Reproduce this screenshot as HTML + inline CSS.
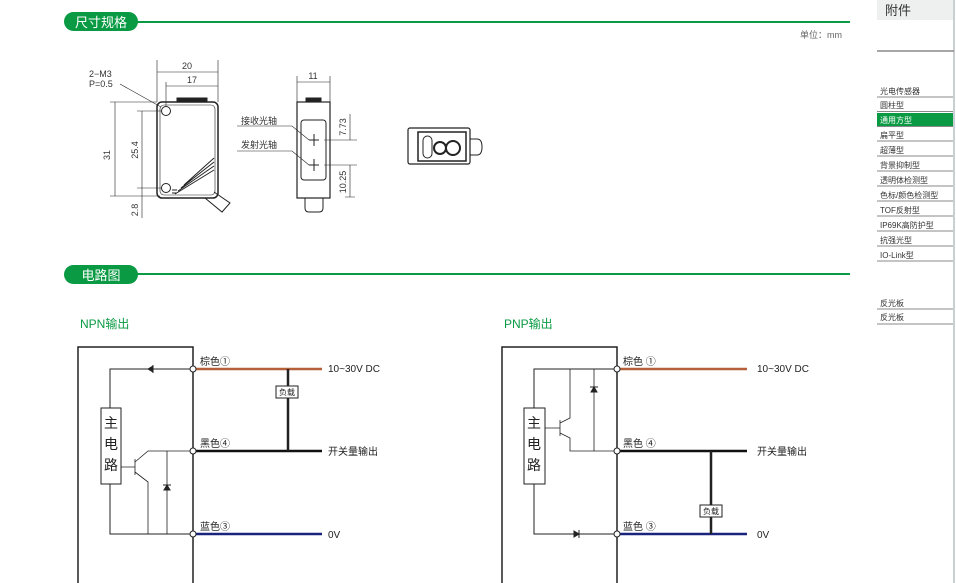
<!DOCTYPE html>
<html><head><meta charset="utf-8"><style>
body{margin:0;background:#fff;}
svg{display:block;font-family:"Liberation Sans","Noto Sans CJK SC",sans-serif;}
</style></head><body>
<svg width="956" height="583" viewBox="0 0 956 583" xmlns="http://www.w3.org/2000/svg">
<!-- headers -->
<line x1="80" y1="22" x2="850" y2="22" stroke="#0a9a43" stroke-width="2"/>
<rect x="64" y="12" width="74" height="19" rx="9.5" fill="#0a9a43"/>
<text x="101" y="27" font-size="13" fill="#fff" text-anchor="middle">尺寸规格</text>
<text x="842" y="38" font-size="9" fill="#666" text-anchor="end">单位：mm</text>
<line x1="80" y1="274" x2="850" y2="274" stroke="#0a9a43" stroke-width="2"/>
<rect x="64" y="265" width="74" height="19" rx="9.5" fill="#0a9a43"/>
<text x="101" y="280" font-size="13" fill="#fff" text-anchor="middle">电路图</text>

<!-- sidebar -->
<rect x="877" y="0" width="77" height="20" fill="#eef0ef"/>
<text x="885" y="15" font-size="13" fill="#333">附件</text>
<line x1="954" y1="0" x2="954" y2="583" stroke="#c8d0d4" stroke-width="2"/>
<line x1="877" y1="51" x2="954" y2="51" stroke="#888" stroke-width="1.5"/>
<g font-size="8" fill="#333">
<text x="880" y="94">光电传感器</text>
<line x1="877" y1="97" x2="953" y2="97" stroke="#888"/>
<text x="880" y="108">圆柱型</text><line x1="877" y1="111.5" x2="953" y2="111.5" stroke="#888"/>
<rect x="877" y="113" width="76" height="13" fill="#0a9a43"/>
<text x="880" y="123" fill="#fff">通用方型</text><line x1="877" y1="126.5" x2="953" y2="126.5" stroke="#888"/>
<text x="880" y="138">扁平型</text><line x1="877" y1="141" x2="953" y2="141" stroke="#888"/>
<text x="880" y="153">超薄型</text><line x1="877" y1="156" x2="953" y2="156" stroke="#888"/>
<text x="880" y="168">背景抑制型</text><line x1="877" y1="171" x2="953" y2="171" stroke="#888"/>
<text x="880" y="183">透明体检测型</text><line x1="877" y1="186" x2="953" y2="186" stroke="#888"/>
<text x="880" y="198">色标/颜色检测型</text><line x1="877" y1="201" x2="953" y2="201" stroke="#888"/>
<text x="880" y="213">TOF反射型</text><line x1="877" y1="216" x2="953" y2="216" stroke="#888"/>
<text x="880" y="228">IP69K高防护型</text><line x1="877" y1="231" x2="953" y2="231" stroke="#888"/>
<text x="880" y="243">抗强光型</text><line x1="877" y1="246" x2="953" y2="246" stroke="#888"/>
<text x="880" y="258">IO-Link型</text><line x1="877" y1="261" x2="953" y2="261" stroke="#888"/>
<text x="880" y="306">反光板</text><line x1="877" y1="309" x2="953" y2="309" stroke="#888"/>
<text x="880" y="320">反光板</text><line x1="877" y1="324" x2="953" y2="324" stroke="#888"/>
</g>

<!-- dimension drawing -->
<g stroke="#222" fill="none" stroke-width="1">
<rect x="157" y="102" width="61" height="96" rx="5" stroke-width="1.5"/>
<rect x="160" y="105" width="55" height="90" rx="4" stroke-width="0.6"/>
<circle cx="166" cy="111" r="4.5"/><circle cx="166" cy="188" r="4.5"/>
<rect x="177" y="98" width="30" height="4" fill="#222"/>
<path d="M175 194 L214 170 M178 191 L214 166 M181 188 L214 162 M184 185 L214 158 M172 190h5 M172 193h5"/>
<path d="M205 198 L222 212 L230 203 L214 192"/>
<line x1="157" y1="60" x2="157" y2="102" stroke-width="0.6"/>
<line x1="218" y1="60" x2="218" y2="102" stroke-width="0.6"/>
<line x1="166" y1="82" x2="166" y2="106" stroke-width="0.6"/>
<line x1="157" y1="72" x2="218" y2="72" stroke-width="0.6"/>
<line x1="166" y1="86" x2="218" y2="86" stroke-width="0.6"/>
<line x1="110" y1="102" x2="157" y2="102" stroke-width="0.6"/>
<line x1="115" y1="102" x2="115" y2="196" stroke-width="0.6"/>
<line x1="110" y1="196" x2="160" y2="196" stroke-width="0.6"/>
<line x1="137" y1="111" x2="162" y2="111" stroke-width="0.6"/>
<line x1="142" y1="111" x2="142" y2="218" stroke-width="0.6"/>
<line x1="137" y1="188" x2="162" y2="188" stroke-width="0.6"/>
<line x1="120" y1="84" x2="161" y2="107" stroke-width="0.6"/>
<!-- side view -->
<rect x="297" y="102" width="33" height="96" stroke-width="1.2"/>
<rect x="301" y="120" width="25" height="60" rx="3"/>
<rect x="306" y="98" width="15" height="4" fill="#222"/>
<path d="M305 198 v10 q0 4 4 4 h10 q4 0 4 -4 v-10"/>
<path d="M309 140 h10 M314 134 v12 M309 165 h10 M314 159 v12"/>
<line x1="297" y1="76" x2="297" y2="102" stroke-width="0.6"/>
<line x1="330" y1="76" x2="330" y2="102" stroke-width="0.6"/>
<line x1="297" y1="82" x2="330" y2="82" stroke-width="0.6"/>
<path d="M237 126 h55 l17 14 M237 151 h55 l17 14" stroke-width="0.6"/>
<path d="M324 140 h33 M324 165 h33 M350 114 v26 M350 165 v32 M345 197 h10" stroke-width="0.6"/>
<!-- third view -->
<rect x="408" y="128" width="62" height="36" rx="2" stroke-width="1.2"/>
<rect x="418" y="132" width="48" height="29" stroke-width="1.5"/>
<rect x="423" y="136" width="9" height="22" rx="4.5"/>
<circle cx="440" cy="148" r="6" stroke-width="2"/><circle cx="453" cy="148" r="7" stroke-width="2"/>
<path d="M470 139 h7 q5 0 5 8 q0 8 -5 8 h-7"/>
</g>
<g font-size="9" fill="#333">
<text x="89" y="77">2−M3</text><text x="89" y="87">P=0.5</text>
<text x="187" y="69" text-anchor="middle">20</text>
<text x="192" y="83" text-anchor="middle">17</text>
<text x="313" y="79" text-anchor="middle">11</text>
<text x="241" y="124">接收光轴</text><text x="241" y="148">发射光轴</text>
<text transform="translate(110 155) rotate(-90)" text-anchor="middle">31</text>
<text transform="translate(138 150) rotate(-90)" text-anchor="middle">25.4</text>
<text transform="translate(138 210) rotate(-90)" text-anchor="middle">2.8</text>
<text transform="translate(346 127) rotate(-90)" text-anchor="middle">7.73</text>
<text transform="translate(346 182) rotate(-90)" text-anchor="middle">10.25</text>
</g>

<!-- NPN -->
<text x="80" y="328" font-size="12" fill="#0a9a43">NPN输出</text>
<g stroke="#222" fill="none">
<path d="M78 583 V347 H193 V583" stroke-width="1.5"/>
<line x1="193" y1="369" x2="322" y2="369" stroke="#b5603a" stroke-width="2.5"/>
<line x1="193" y1="451" x2="322" y2="451" stroke="#111" stroke-width="2.5"/>
<line x1="193" y1="534" x2="322" y2="534" stroke="#1a237e" stroke-width="2.5"/>
<line x1="288" y1="369" x2="288" y2="451" stroke-width="2.5"/>
<rect x="276" y="386" width="22" height="12" fill="#fff" stroke-width="1"/>
<path d="M110 408 V369 H193 M110 484 V534 H193" stroke-width="1"/>
<rect x="101" y="408" width="20" height="76" fill="#fff" stroke-width="1"/>
<path d="M121 467 h14 M135 459 v16 M135 462 l13 -11 H193 M135 472 l13 10 V534 M167 451 V534" stroke-width="0.8"/>
</g>
<path d="M148 369 l5 -3 v6z M153 365 v8" fill="#222" stroke="#222"/>
<path d="M164 490 h6 l-3 -5z M163 485 h8" fill="#222" stroke="#222"/>
<g fill="#fff" stroke="#222"><circle cx="193" cy="369" r="3"/><circle cx="193" cy="451" r="3"/><circle cx="193" cy="534" r="3"/></g>
<g font-size="10" fill="#222">
<text x="200" y="365">棕色①</text><text x="200" y="447">黑色④</text><text x="200" y="530">蓝色③</text>
<text x="328" y="372">10~30V DC</text><text x="328" y="455">开关量输出</text><text x="328" y="538">0V</text>
<text x="287" y="395" font-size="8" text-anchor="middle">负载</text>
</g>
<g font-size="14" fill="#222" text-anchor="middle"><text x="111" y="428">主</text><text x="111" y="449">电</text><text x="111" y="470">路</text></g>

<!-- PNP -->
<text x="504" y="328" font-size="12" fill="#0a9a43">PNP输出</text>
<g stroke="#222" fill="none">
<path d="M502 583 V347 H617 V583" stroke-width="1.5"/>
<line x1="617" y1="369" x2="747" y2="369" stroke="#b5603a" stroke-width="2.5"/>
<line x1="617" y1="451" x2="747" y2="451" stroke="#111" stroke-width="2.5"/>
<line x1="617" y1="534" x2="747" y2="534" stroke="#1a237e" stroke-width="2.5"/>
<line x1="711" y1="451" x2="711" y2="534" stroke-width="2.5"/>
<rect x="700" y="505" width="22" height="12" fill="#fff" stroke-width="1"/>
<path d="M534 408 V369 H617 M534 484 V534 H617" stroke-width="1"/>
<rect x="524" y="408" width="21" height="76" fill="#fff" stroke-width="1"/>
<path d="M545 428 h15 M560 420 v16 M560 423 l10 -5 V369 M560 433 l10 5 V451 H617 M594 369 V451" stroke-width="0.8"/>
</g>
<path d="M591 392 h6 l-3 -5z M590 387 h8" fill="#222" stroke="#222"/>
<path d="M574 531 l5 3 l-5 3z M579 530 v8" fill="#222" stroke="#222"/>
<g fill="#fff" stroke="#222"><circle cx="617" cy="369" r="3"/><circle cx="617" cy="451" r="3"/><circle cx="617" cy="534" r="3"/></g>
<g font-size="10" fill="#222">
<text x="623" y="365">棕色 ①</text><text x="623" y="447">黑色 ④</text><text x="623" y="530">蓝色 ③</text>
<text x="757" y="372">10~30V DC</text><text x="757" y="455">开关量输出</text><text x="757" y="538">0V</text>
<text x="711" y="514" font-size="8" text-anchor="middle">负载</text>
</g>
<g font-size="14" fill="#222" text-anchor="middle"><text x="534" y="428">主</text><text x="534" y="449">电</text><text x="534" y="470">路</text></g>
</svg>
</body></html>
